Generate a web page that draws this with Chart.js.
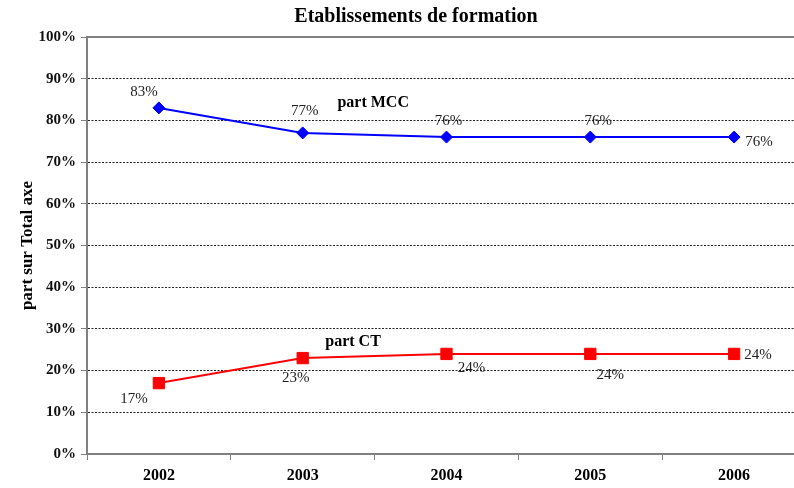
<!DOCTYPE html>
<html>
<head>
<meta charset="utf-8">
<script src="https://cdn.jsdelivr.net/npm/chart.js@4/dist/chart.umd.min.js"></script>
<style>
  html, body { margin: 0; padding: 0; background: #fff; overflow: hidden; }
  #wrap { width: 832px; height: 488px; }
</style>
</head>
<body>
<div id="wrap"><canvas id="chartCanvas" width="832" height="488"></canvas></div>
<script>
// values
const years = ['2002', '2003', '2004', '2005', '2006'];
const partMCC = [83, 77, 76, 76, 76];
const partCT = [17, 23, 24, 24, 24];

// where each value label sits relative to its point (px)
const mccLabelOffsets = [[-15, -16], [2, -22], [2, -16], [8, -16], [25, 5]];
const ctLabelOffsets = [[-25, 16], [-7, 20], [25, 14], [20, 21], [24, 1]];

const serif = '"Liberation Serif", "DejaVu Serif", serif';

const decorPlugin = {
    id: 'decor',
    afterDraw(chart) {
        const ctx = chart.ctx;
        const area = chart.chartArea;
        const xs = chart.scales.x;
        const ys = chart.scales.y;
        ctx.save();

        // top frame line
        ctx.strokeStyle = '#808080';
        ctx.lineWidth = 2;
        ctx.beginPath();
        ctx.moveTo(area.left, area.top);
        ctx.lineTo(area.right, area.top);
        ctx.stroke();

        // title
        ctx.fillStyle = '#000';
        ctx.textAlign = 'center';
        ctx.textBaseline = 'middle';
        ctx.font = 'bold 20px ' + serif;
        ctx.fillText('Etablissements de formation', 416, 17);

        // series names
        ctx.font = 'bold 16px ' + serif;
        ctx.fillText('part MCC', xs.getPixelForValue(1.49), ys.getPixelForValue(84.2));
        ctx.fillText('part CT', xs.getPixelForValue(1.35), ys.getPixelForValue(26.9));

        // value labels
        ctx.font = '15px ' + serif;
        ctx.fillStyle = '#222';
        const sets = [[0, mccLabelOffsets], [1, ctLabelOffsets]];
        sets.forEach(([di, offs]) => {
            const meta = chart.getDatasetMeta(di);
            const data = chart.data.datasets[di].data;
            meta.data.forEach((pt, i) => {
                ctx.fillText(data[i] + '%', pt.x + offs[i][0], pt.y + offs[i][1]);
            });
        });
        ctx.restore();
    }
};

const ctx = document.getElementById('chartCanvas').getContext('2d');
new Chart(ctx, {
    type: 'line',
    data: {
        labels: years,
        datasets: [
            {
                label: 'part MCC',
                data: partMCC,
                borderColor: '#0000ff',
                backgroundColor: '#0000ff',
                borderWidth: 2,
                pointStyle: 'rectRot',
                pointRadius: 6,
                pointBorderWidth: 1,
                tension: 0
            },
            {
                label: 'part CT',
                data: partCT,
                borderColor: '#ff0000',
                backgroundColor: '#ff0000',
                borderWidth: 2,
                pointStyle: 'rect',
                pointRadius: 8,
                pointBorderWidth: 1,
                tension: 0
            }
        ]
    },
    options: {
        responsive: false,
        animation: false,
        layout: { padding: { left: 0, right: 26, top: 37, bottom: 0 } },
        plugins: {
            legend: { display: false },
            title: { display: false },
            tooltip: { enabled: false }
        },
        scales: {
            x: {
                offset: true,
                afterFit(scale) { scale.height = 34; },
                border: { color: '#808080', width: 2 },
                grid: {
                    offset: true,
                    drawOnChartArea: false,
                    drawTicks: true,
                    tickLength: 6,
                    tickColor: '#808080',
                    tickWidth: 1
                },
                ticks: {
                    color: '#000',
                    padding: 6,
                    font: { family: serif, size: 16, weight: 'bold' }
                }
            },
            y: {
                min: 0,
                max: 100,
                afterFit(scale) { scale.width = 87; },
                border: { color: '#808080', width: 2, dash: [2, 1.5] },
                grid: {
                    color: (c) => (c.tick && (c.tick.value === 0 || c.tick.value === 100)) ? 'rgba(0,0,0,0)' : '#222',
                    lineWidth: 1,
                    tickLength: 6,
                    tickColor: '#808080',
                    tickBorderDash: []
                },
                ticks: {
                    stepSize: 10,
                    color: '#111',
                    padding: 5,
                    font: { family: serif, size: 15, weight: 'bold' },
                    callback: (v) => v + '%'
                },
                title: {
                    display: true,
                    text: 'part sur Total axe',
                    color: '#000',
                    padding: { top: 17, bottom: 0 },
                    font: { family: serif, size: 17, weight: 'bold' }
                }
            }
        }
    },
    plugins: [decorPlugin]
});
</script>
</body>
</html>
